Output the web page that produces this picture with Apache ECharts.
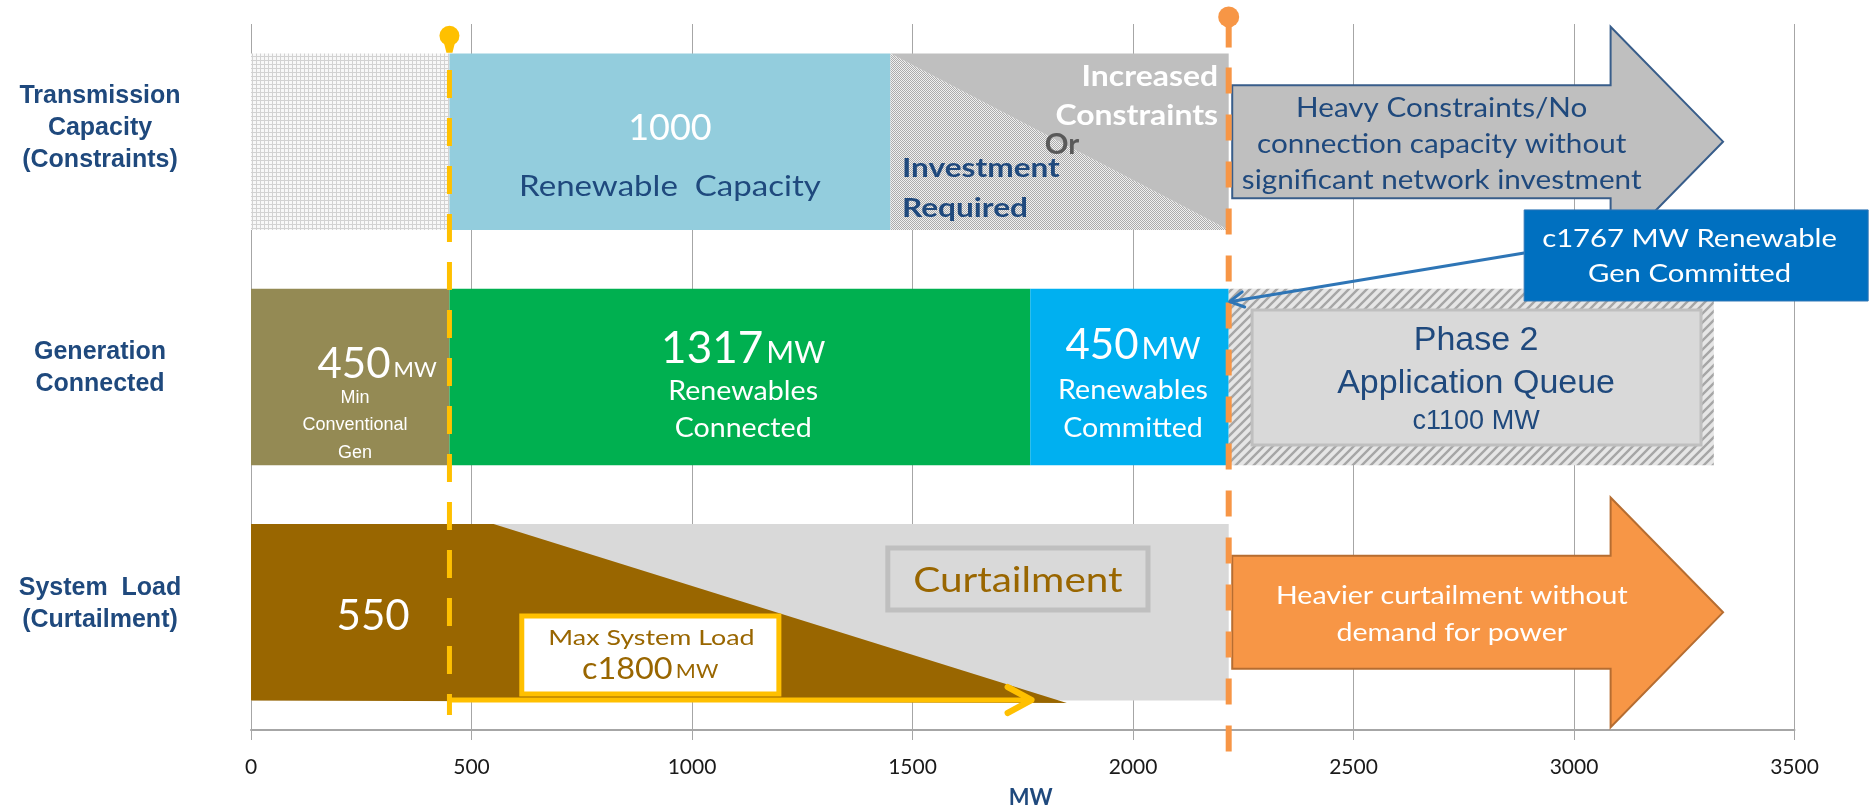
<!DOCTYPE html>
<html><head><meta charset="utf-8">
<script src="https://cdn.jsdelivr.net/npm/echarts@6/dist/echarts.min.js"></script>
<style>html,body{margin:0;padding:0;background:#fff}#c{width:1872px;height:810px}</style>
</head><body><div id="c"></div>
<script>
// ---------------- DATA ----------------
const rowLabels = ['System  Load\n(Curtailment)', 'Generation\nConnected', 'Transmission\nCapacity\n(Constraints)'];
const xTicks = [0, 500, 1000, 1500, 2000, 2500, 3000, 3500];
// Generation connected (MW, stacked): min conventional, renewables connected, renewables committed, phase 2 queue
const genValues = [450, 1317, 450, 1100];
// Transmission capacity (MW, stacked): below min gen, renewable capacity, increased constraints / investment
const transValues = [450, 1000, 767];
// System load (MW): flat min load, end of curtailment wedge
const loadProfile = [550, 1850];
// Max system load arrow (MW): from, to
const maxLoadArrow = [450, 1770];
// Labels
const genLabels = ['450', '1317', '450'];
const phase2Label = ['Phase 2', 'Application Queue', 'c1100 MW'];
const renewableCapacityLabel = '1000';
const minLoadLabel = '550';
const maxLoadLabel = 'c1800';
const committedLabel = 'c1767 MW Renewable\nGen Committed';

// ---------------- HELPERS ----------------
const cum = a => a.reduce((acc, v) => { acc.push(acc[acc.length - 1] + v); return acc; }, [0]);
const genEdges = cum(genValues);     // 0,450,1767,2217,3317
const transEdges = cum(transValues); // 0,450,1450,2217
const committedEdge = genEdges[3];
const band = r => [r + 0.125, r + 0.875];

const FONT = 'Lato, "Open Sans", sans-serif';
const ARIAL = '"Liberation Sans", Arial, sans-serif';
const NAVY = '#1F497D';

function makePattern(w, h, draw) {
  const c = document.createElement('canvas'); c.width = w; c.height = h;
  draw(c.getContext('2d'), w, h);
  return { image: c, repeat: 'repeat' };
}
const stippleLight = makePattern(4, 4, g => {
  g.fillStyle = '#f8f8f8'; g.fillRect(0, 0, 4, 4);
  g.fillStyle = '#d2d2d2'; g.fillRect(0, 0, 1, 4); g.fillRect(0, 0, 4, 1);
});
const stippleDiag = makePattern(2, 2, g => {
  g.fillStyle = '#f0f0f0'; g.fillRect(0, 0, 2, 2);
  g.fillStyle = '#ababab'; g.fillRect(0, 0, 1, 1); g.fillRect(1, 1, 1, 1);
});
const hatch = makePattern(9, 9, g => {
  g.fillStyle = '#e6e6e6'; g.fillRect(0, 0, 9, 9);
  g.strokeStyle = '#a6a6a6'; g.lineWidth = 2.4;
  g.beginPath();
  g.moveTo(-1, 10); g.lineTo(10, -1);
  g.moveTo(-1, 1); g.lineTo(1, -1);
  g.moveTo(8, 10); g.lineTo(10, 8);
  g.stroke();
});

function tools(api) {
  const C = (x, y) => api.coord([x, y]);
  return {
    C,
    R: (x0, x1, y0, y1, style) => { const a = C(x0, y1), b = C(x1, y0); return { type: 'rect', shape: { x: a[0], y: a[1], width: b[0] - a[0], height: b[1] - a[1] }, style }; },
    PG: (pts, style) => ({ type: 'polygon', shape: { points: pts.map(p => C(p[0], p[1])) }, style }),
    T: (x, y, text, st, sx) => { const p = C(x, y); return { type: 'text', x: p[0], y: p[1], scaleX: sx || 1, style: Object.assign({ text, align: 'center', verticalAlign: 'middle', fontFamily: FONT }, st) }; }
  };
}

// ---- bands (bars) ----
function renderBands(params, api) {
  const { R, PG } = tools(api);
  const ch = [];
  let [y0, y1] = band(2);
  ch.push(R(transEdges[0], transEdges[1], y0, y1, { fill: stippleLight }));
  ch.push(R(transEdges[1], transEdges[2], y0, y1, { fill: '#93CDDD' }));
  ch.push(PG([[transEdges[2], y1], [transEdges[2], y0], [transEdges[3], y0]], { fill: stippleDiag }));
  ch.push(PG([[transEdges[2], y1], [transEdges[3], y1], [transEdges[3], y0]], { fill: '#BFBFBF' }));
  [y0, y1] = band(1);
  const genFills = ['#948A54', '#00B050', '#00B0F0', hatch];
  for (let i = 0; i < genValues.length; i++) ch.push(R(genEdges[i], genEdges[i + 1], y0, y1, { fill: genFills[i] }));
  [y0, y1] = band(0);
  ch.push(R(0, committedEdge, y0, y1, { fill: '#D9D9D9' }));
  ch.push(PG([[0, y1], [loadProfile[0], y1], [loadProfile[1], y0 - 0.01], [0, y0]], { fill: '#996600' }));
  return { type: 'group', children: ch };
}

// ---- annotations: arrows, boxes ----
function renderShapes(params, api) {
  const { C, R, PG } = tools(api);
  const ch = [];
  const arrow = (base, fill, stroke) => PG([
    [2225, base + 0.26], [3083, base + 0.26], [3083, base + 0.012], [3338, base + 0.5],
    [3083, base + 0.988], [3083, base + 0.74], [2225, base + 0.74]], { fill, stroke, lineWidth: 2 });
  ch.push(arrow(2, '#BFBFBF', '#385D8A'));
  ch.push(arrow(0, '#F79646', '#B66D31'));
  ch.push(R(2270, 3288, 1.211, 1.785, { fill: '#D9D9D9', stroke: '#BFBFBF', lineWidth: 3 }));
  ch.push(R(1444, 2034, 0.51, 0.773, { fill: '#D9D9D9', stroke: '#BFBFBF', lineWidth: 5 }));
  ch.push(R(614, 1197, 0.153, 0.484, { fill: '#FFFFFF', stroke: '#FFC000', lineWidth: 5 }));
  const a0 = C(maxLoadArrow[0], 0.1275), a1 = C(maxLoadArrow[1], 0.1275);
  ch.push({ type: 'line', shape: { x1: a0[0], y1: a0[1], x2: a1[0], y2: a1[1] }, style: { stroke: '#FFC000', lineWidth: 5 } });
  ch.push({ type: 'polyline', shape: { points: [[a1[0] - 24, a1[1] - 13], [a1[0], a1[1]], [a1[0] - 24, a1[1] + 13]] }, style: { stroke: '#FFC000', lineWidth: 6, fill: null, lineCap: 'round', lineJoin: 'round' } });
  ch.push(R(2887, 3667, 1.823, 2.21, { fill: '#0070C0', stroke: '#2E75B6', lineWidth: 1 }));
  return { type: 'group', children: ch };
}

// ---- vertical dashed markers ----
function renderMarkers(params, api) {
  const { C } = tools(api);
  const ch = [];
  const yTop = C(transEdges[1], 2.95), yBot = C(transEdges[1], 0.064), yDash = C(transEdges[1], 2.805);
  ch.push({ type: 'line', shape: { x1: yDash[0], y1: yDash[1], x2: yBot[0], y2: yBot[1] }, style: { stroke: '#FFC000', lineWidth: 5, lineDash: [28, 20] } });
  ch.push({ type: 'polygon', shape: { points: [[yTop[0] - 6, yTop[1] + 5], [yTop[0] + 6, yTop[1] + 5], [yTop[0] + 3, yTop[1] + 17], [yTop[0] - 3, yTop[1] + 17]] }, style: { fill: '#FFC000' } });
  ch.push({ type: 'circle', shape: { cx: yTop[0], cy: yTop[1], r: 10 }, style: { fill: '#FFC000' } });
  const oTop = C(committedEdge, 3.03), oBot = C(committedEdge, -0.161), oStem = C(committedEdge, 2.9);
  ch.push({ type: 'line', shape: { x1: oTop[0], y1: oTop[1], x2: oStem[0], y2: oStem[1] }, style: { stroke: '#F79646', lineWidth: 6 } });
  ch.push({ type: 'line', shape: { x1: oStem[0], y1: oStem[1] + 20, x2: oBot[0], y2: oBot[1] }, style: { stroke: '#F79646', lineWidth: 6, lineDash: [26, 21] } });
  ch.push({ type: 'circle', shape: { cx: oTop[0], cy: oTop[1], r: 10.5 }, style: { fill: '#F79646' } });
  const p0 = C(2887, 2.027), p1 = C(committedEdge + 2, 1.82);
  ch.push({ type: 'line', shape: { x1: p0[0], y1: p0[1], x2: p1[0], y2: p1[1] }, style: { stroke: '#2E75B6', lineWidth: 3 } });
  const dx = p0[0] - p1[0], dy = p0[1] - p1[1], L = Math.hypot(dx, dy), ux = dx / L, uy = dy / L;
  const ang = 0.5, len = 16;
  const rot = (a) => [p1[0] + len * (ux * Math.cos(a) - uy * Math.sin(a)), p1[1] + len * (ux * Math.sin(a) + uy * Math.cos(a))];
  ch.push({ type: 'polyline', shape: { points: [rot(ang), [p1[0], p1[1]], rot(-ang)] }, style: { stroke: '#2E75B6', lineWidth: 3, fill: null, lineCap: 'round', lineJoin: 'round' } });
  return { type: 'group', children: ch };
}

// ---- texts ----
function renderTexts(params, api) {
  const { T } = tools(api);
  const W = '#FFFFFF';
  const ch = [];
  const mid = (a, b) => (a + b) / 2;
  const S = 1.14; // horizontal stretch of the original artwork's text
  // transmission row
  ch.push(T(mid(transEdges[1], transEdges[2]), 2.558, renewableCapacityLabel, { fill: W, fontSize: 36 }));
  ch.push(T(mid(transEdges[1], transEdges[2]), 2.31, 'Renewable  Capacity', { fill: NAVY, fontSize: 29 }, S));
  ch.push(T(2193, 2.694, 'Increased\nConstraints', { fill: W, fontSize: 28, fontWeight: 'bold', align: 'right', lineHeight: 39 }, S));
  ch.push(T(1839, 2.486, 'Or', { fill: '#595959', fontSize: 28, fontWeight: 'bold' }, 1.05));
  ch.push(T(1476, 2.302, 'Investment\nRequired', { fill: NAVY, fontSize: 27, fontWeight: 'bold', align: 'left', lineHeight: 40 }, 1.17));
  ch.push(T(2700, 2.486, 'Heavy Constraints/No\nconnection capacity without\nsignificant network investment', { fill: NAVY, fontSize: 26, lineHeight: 36 }, S));
  ch.push(T(3262, 2.012, committedLabel, { fill: W, fontSize: 25, lineHeight: 35 }, 1.17));
  // generation row
  const rich = (a, b, c) => ({ a: { fontSize: a, fill: W, fontFamily: FONT, verticalAlign: 'bottom' }, b: { fontSize: b, fill: W, fontFamily: FONT, verticalAlign: 'bottom', padding: [0, 0, c, 0] } });
  ch.push(T(286, 1.555, '{a|' + genLabels[0] + '} {b|MW}', { rich: rich(42, 22, 4) }));
  ch.push(T(236, 1.294, 'Min\nConventional\nGen', { fill: W, fontSize: 18, fontFamily: ARIAL, lineHeight: 27.5 }));
  ch.push(T(1116, 1.62, '{a|' + genLabels[1] + '} {b|MW}', { rich: rich(44, 30, 2) }));
  ch.push(T(1116, 1.358, 'Renewables\nConnected', { fill: W, fontSize: 26, lineHeight: 37 }, 1.1));
  ch.push(T(mid(genEdges[2], genEdges[3]) + 8, 1.634, '{a|' + genLabels[2] + '} {b|MW}', { rich: rich(42, 30, 2) }));
  ch.push(T(mid(genEdges[2], genEdges[3]) + 8, 1.362, 'Renewables\nCommitted', { fill: W, fontSize: 26, lineHeight: 38 }, 1.1));
  ch.push(T(2778, 1.563, phase2Label[0] + '\n' + phase2Label[1], { fill: NAVY, fontSize: 34, fontFamily: ARIAL, lineHeight: 43 }));
  ch.push(T(2778, 1.309, phase2Label[2], { fill: NAVY, fontSize: 27, fontFamily: ARIAL }));
  // load row
  ch.push(T(277, 0.482, minLoadLabel, { fill: W, fontSize: 42 }));
  ch.push(T(1739, 0.632, 'Curtailment', { fill: '#996600', fontSize: 34 }, 1.19));
  ch.push(T(908, 0.392, 'Max System Load', { fill: '#996600', fontSize: 22 }, 1.22));
  ch.push(T(905, 0.258, '{a|' + maxLoadLabel + '} {b|MW}', { rich: { a: { fontSize: 30, fill: '#996600', fontFamily: FONT, verticalAlign: 'bottom' }, b: { fontSize: 20, fill: '#996600', fontFamily: FONT, verticalAlign: 'bottom', padding: [0, 0, 3, 0] } } }, 1.08));
  ch.push(T(2723, 0.492, 'Heavier curtailment without\ndemand for power', { fill: W, fontSize: 25, lineHeight: 37 }, S));
  return { type: 'group', children: ch };
}

const custom = (name, fn, z) => ({ name, type: 'custom', xAxisIndex: 0, yAxisIndex: 1, clip: false, silent: true, z, data: [[0, 0]], renderItem: fn });

const yRich = { t: { fontSize: 25, fontWeight: 'bold', color: NAVY, fontFamily: ARIAL, lineHeight: 32, align: 'center' },
  s0: { fontSize: 2, lineHeight: 16 }, s1: { fontSize: 2, lineHeight: 18 }, s2: { fontSize: 2, lineHeight: 28 } };

const option = {
  backgroundColor: '#FFFFFF',
  animation: false,
  grid: { left: 251, right: 77.5, top: 24, bottom: 80, containLabel: false, outerBoundsMode: 'none' },
  xAxis: {
    type: 'value', min: xTicks[0], max: xTicks[xTicks.length - 1], interval: xTicks[1] - xTicks[0],
    name: 'MW', nameLocation: 'middle', nameGap: 57,
    nameTextStyle: { color: NAVY, fontSize: 22, fontWeight: 'bold', fontFamily: FONT, padding: [0, 0, 0, 16] },
    axisLine: { show: true, lineStyle: { color: '#A6A6A6', width: 2 } },
    axisTick: { show: true, length: 10, lineStyle: { color: '#A6A6A6' } },
    axisLabel: { color: '#1a1a1a', fontSize: 21, fontFamily: FONT, margin: 27, formatter: v => String(v) },
    splitLine: { show: true, lineStyle: { color: '#A6A6A6', width: 1 } }
  },
  yAxis: [
    {
      type: 'category', data: rowLabels,
      axisLine: { show: false }, axisTick: { show: false }, splitLine: { show: false },
      axisLabel: { align: 'center', margin: 151,
        formatter: (v, i) => v.split('\n').map(s => '{t|' + s + '}').join('\n') + '\n{s' + i + '| }',
        rich: yRich }
    },
    { type: 'value', min: 0, max: 3, show: false, splitLine: { show: false } }
  ],
  series: [
    custom('bands', renderBands, 2),
    custom('shapes', renderShapes, 3),
    custom('markers', renderMarkers, 4),
    custom('texts', renderTexts, 5)
  ]
};
const chart = echarts.init(document.getElementById('c'));
chart.setOption(option);
</script>
</body></html>
